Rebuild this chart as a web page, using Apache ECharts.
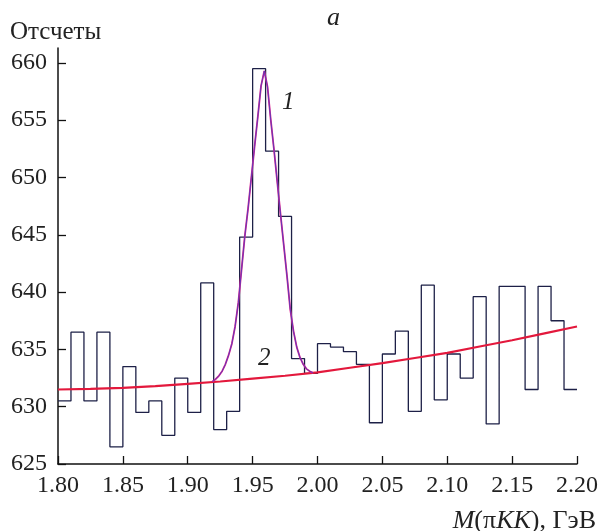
<!DOCTYPE html>
<html>
<head>
<meta charset="utf-8">
<script src="https://cdn.jsdelivr.net/npm/echarts@6/dist/echarts.min.js"></script>
<style>
  html, body { margin: 0; padding: 0; background: #fff; }
  #chart { width: 601px; height: 531px; }
</style>
</head>
<body>
<div id="chart"></div>
<script>
// histogram bin edges (GeV) and counts per bin
const binEdges = [1.80, 1.81, 1.82, 1.83, 1.84, 1.85, 1.86, 1.87, 1.88, 1.89,
  1.90, 1.91, 1.92, 1.93, 1.94, 1.95, 1.96, 1.97, 1.98, 1.99,
  2.00, 2.01, 2.02, 2.03, 2.04, 2.05, 2.06, 2.07, 2.08, 2.09,
  2.10, 2.11, 2.12, 2.13, 2.14, 2.15, 2.16, 2.17, 2.18, 2.19, 2.20]
const counts = [630.5, 636.5, 630.5, 636.5, 626.5, 633.5, 629.5, 630.5, 627.5, 632.5,
  629.5, 640.8, 628.0, 629.6, 644.8, 659.5, 652.3, 646.6, 634.2, 632.9,
  635.5, 635.2, 634.8, 633.7, 628.6, 634.6, 636.6, 629.6, 640.6, 630.6,
  634.6, 632.5, 639.6, 628.5, 640.5, 640.5, 631.5, 640.5, 637.5, 631.5]

// curve 2: background
const bgX = [1.80, 1.825, 1.85, 1.875, 1.90, 1.925, 1.95, 1.975, 2.00,
  2.025, 2.05, 2.075, 2.10, 2.125, 2.15, 2.175, 2.20]
const bgY = [631.5, 631.55, 631.65, 631.8, 632.0, 632.2, 632.45, 632.7, 633.0,
  633.4, 633.8, 634.25, 634.7, 635.25, 635.8, 636.4, 637.0]

// curve 1: peak + background
const fitX = [1.919, 1.9215, 1.924, 1.9265, 1.929, 1.9315, 1.934, 1.9365, 1.939, 1.9415,
  1.944, 1.9465, 1.949, 1.9515, 1.954, 1.9565, 1.959, 1.9615, 1.964, 1.9665,
  1.969, 1.9715, 1.974, 1.9765, 1.979, 1.9815, 1.984, 1.9865, 1.989, 1.9915,
  1.994, 1.9965]
const fitY = [632.2, 632.4, 632.7, 633.1, 633.7, 634.5, 635.5, 637.0, 639.1, 642.0,
  644.9, 647.3, 650.0, 652.7, 655.3, 658.0, 659.3, 657.9, 655.0, 652.4,
  649.6, 646.8, 644.1, 641.4, 638.5, 636.6, 635.2, 634.3, 633.7, 633.3,
  633.1, 632.95]

const yTicks = [625, 630, 635, 640, 645, 650, 655, 660]

const zip = (xs, ys) => xs.map((x, i) => [x, ys[i]])
const serif = 'Liberation Serif'

const chart = echarts.init(document.getElementById('chart'), null, { renderer: 'canvas' })

const option = {
  backgroundColor: '#fff',
  animation: false,
  grid: { left: 58, right: 23, top: 48, bottom: 67 },
  xAxis: {
    type: 'value',
    min: 1.80,
    max: 2.20,
    interval: 0.05,
    axisLine: { onZero: false, lineStyle: { color: '#111', width: 1.5 } },
    axisTick: { inside: true, length: 8, lineStyle: { color: '#111', width: 1.3 } },
    axisLabel: {
      color: '#222', fontFamily: serif, fontSize: 24, margin: 10,
      formatter: v => v.toFixed(2)
    },
    splitLine: { show: false }
  },
  yAxis: {
    type: 'value',
    min: 625,
    max: 661.3,
    axisLine: { show: true, lineStyle: { color: '#111', width: 1.5 } },
    axisTick: { inside: true, length: 8, customValues: yTicks, lineStyle: { color: '#111', width: 1.3 } },
    axisLabel: { color: '#222', fontFamily: serif, fontSize: 24, margin: 11, customValues: yTicks },
    splitLine: { show: false }
  },
  series: [
    {
      type: 'line',
      step: 'end',
      symbol: 'none',
      data: binEdges.map((x, i) => [x, counts[Math.min(i, counts.length - 1)]]),
      lineStyle: { color: '#1d2047', width: 1.3 },
      z: 2
    },
    {
      type: 'line',
      symbol: 'none',
      data: zip(bgX, bgY),
      lineStyle: { color: '#e3183c', width: 2.2 },
      z: 3
    },
    {
      type: 'line',
      symbol: 'none',
      data: zip(fitX, fitY),
      lineStyle: { color: '#e0208c', width: 1.8 },
      z: 4
    },
    {
      type: 'line',
      symbol: 'none',
      data: zip(fitX, fitY),
      lineStyle: { color: '#4a3cc0', width: 1, opacity: 0.85 },
      z: 5
    }
  ],
  graphic: [
    { type: 'text', left: 10, top: 20, style: { text: 'Отсчеты', fontFamily: serif, fontSize: 25, fill: '#222' } },
    { type: 'text', left: 327, top: 5, style: { text: 'а', fontFamily: serif, fontStyle: 'italic', fontSize: 26, fill: '#222' } },
    { type: 'text', left: 282, top: 90, style: { text: '1', fontFamily: serif, fontStyle: 'italic', fontSize: 25, fill: '#222' } },
    { type: 'text', left: 258, top: 346, style: { text: '2', fontFamily: serif, fontStyle: 'italic', fontSize: 25, fill: '#222' } },
    {
      type: 'text', right: 5, top: 508,
      style: {
        text: '{i|M}({n|π}{i|KK}), ГэВ',
        fontFamily: serif, fontSize: 26, fill: '#222',
        rich: {
          i: { fontStyle: 'italic', fontFamily: serif, fontSize: 26, fill: '#222' },
          n: { fontFamily: serif, fontSize: 26, fill: '#222' }
        }
      }
    }
  ]
}

chart.setOption(option)
</script>
</body>
</html>
